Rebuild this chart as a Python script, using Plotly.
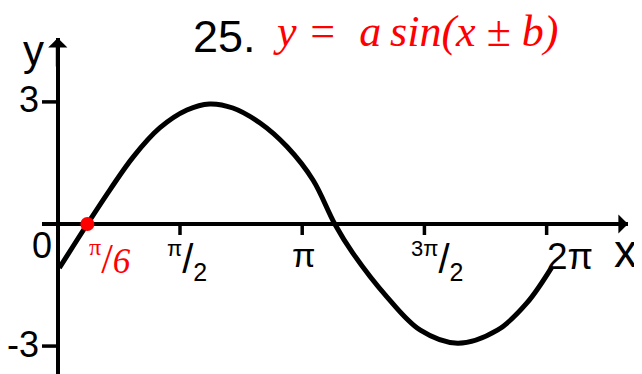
import math
import plotly.graph_objects as go

# --- Data (x in radians, y in units) ---

curve_x = [0.02, 0.38, 0.67, 0.97, 1.31, 1.66, 1.95, 2.25, 2.60, 2.95,
           3.28, 3.56, 3.79, 4.23, 4.66, 5.14, 5.65, 6.03, 6.35]
curve_y = [-1.08, 0.0, 0.84, 1.65, 2.36, 2.80, 2.95, 2.85, 2.48, 1.89,
           1.08, 0.0, -0.71, -1.79, -2.61, -2.93, -2.61, -1.94, -1.06]

point_x = [0.38]  # red dot marking the phase shift
point_y = [0.0]
point_label = ("<sup><span style='font-size:24px'>π</span></sup>/"
               "<span style='font-size:35px'><i>6</i></span>")

x_tick_vals = [math.pi / 2, math.pi, 3 * math.pi / 2, 2 * math.pi]
x_tick_text = [
    "<sup><span style='font-size:22px'>π</span></sup>/<sub><span style='font-size:25px'>2</span></sub>",
    "<span style='font-size:34px'>π</span>",
    "<sup><span style='font-size:22px'>3π</span></sup>/<sub><span style='font-size:25px'>2</span></sub>",
    "<span style='font-size:37px'>2π</span>",
]
x_tick_shift = [7, 1, 13, 23]  # label offset to the right of its tick (px)

y_tick_vals = [3, -3]
y_tick_text = ["3", "-3"]

SANS = "Liberation Sans"
SERIF = "Liberation Serif"

# the page body keeps its default 8px margin, so the figure is laid out
# 8px smaller and its margins pulled in by the same amount
PAD = 8

fig = go.Figure()

fig.add_trace(  # the sine curve
    go.Scatter(
        x=curve_x,
        y=curve_y,
        mode="lines",
        line=dict(color="black", width=5, shape="spline", smoothing=1.0),
        hoverinfo="skip",
    )
)

fig.add_trace(  # red point on the x axis
    go.Scatter(
        x=point_x,
        y=point_y,
        mode="markers",
        marker=dict(color="#ff0000", size=14),
        hoverinfo="skip",
    )
)

# --- Ticks on the axes ---

for v in x_tick_vals:
    fig.add_shape(
        type="line", xref="x", yref="y", x0=v, x1=v,
        ysizemode="pixel", yanchor=0, y0=0, y1=-11,
        line=dict(color="black", width=3.5),
    )
for v in y_tick_vals:
    fig.add_shape(
        type="line", xref="x", yref="y", y0=v, y1=v,
        xsizemode="pixel", xanchor=0, x0=-16, x1=0,
        line=dict(color="black", width=3.5),
    )

# --- Tick labels ---

for v, t, s in zip(x_tick_vals, x_tick_text, x_tick_shift):
    fig.add_annotation(
        x=v, y=0, xref="x", yref="y", text=t, showarrow=False,
        xanchor="center", yanchor="top", xshift=s, yshift=-10,
        font=dict(family=SANS, size=40, color="black"),
    )
for v, t in zip(y_tick_vals, y_tick_text):
    fig.add_annotation(
        x=0, y=v, xref="x", yref="y", text=t, showarrow=False,
        xanchor="right", yanchor="middle", xshift=-17, yshift=2,
        font=dict(family=SANS, size=36, color="black"),
    )
fig.add_annotation(  # origin label
    x=0, y=0, xref="x", yref="y", text="0", showarrow=False,
    xanchor="center", yanchor="middle", xshift=-16, yshift=-22,
    font=dict(family=SANS, size=36, color="black"),
)
fig.add_annotation(  # label for the red point
    x=point_x[0], y=0, xref="x", yref="y", text=point_label, showarrow=False,
    xanchor="center", yanchor="top", xshift=23, yshift=-8,
    font=dict(family=SERIF, size=42, color="#ff0000"),
)

# --- Axis arrows and axis names ---

fig.add_annotation(
    x=1, y=0, xref="paper", yref="y", ax=-30, ay=0, text="",
    showarrow=True, arrowhead=1, arrowsize=0.8, arrowwidth=4, arrowcolor="black",
)
fig.add_annotation(
    x=0, y=1, xref="x", yref="paper", ax=0, ay=30, text="",
    showarrow=True, arrowhead=1, arrowsize=0.8, arrowwidth=4, arrowcolor="black",
)
fig.add_annotation(
    x=1, y=0, xref="paper", yref="y", text="x", showarrow=False,
    xanchor="center", yanchor="middle", xshift=-3, yshift=-27,
    font=dict(family=SANS, size=46, color="black"),
)
fig.add_annotation(
    x=0, y=1, xref="x", yref="paper", text="y", showarrow=False,
    xanchor="center", yanchor="middle", xshift=-24, yshift=-12,
    font=dict(family=SANS, size=42, color="black"),
)

# --- Title: problem number and formula ---

fig.add_annotation(
    x=0.311, y=1.0, xref="paper", yref="paper", text="25.", showarrow=False,
    xanchor="center", yanchor="middle", yshift=2,
    font=dict(family=SANS, size=45, color="black"),
)
fig.add_annotation(
    x=0.638, y=1.0, xref="paper", yref="paper",
    text="<i>y\u00a0=\u00a0\u00a0a\u2009sin(x\u00a0±\u00a0b)</i>",
    showarrow=False,
    xanchor="center", yanchor="middle", yshift=7,
    font=dict(family=SERIF, size=44, color="#ff0000"),
)

fig.update_layout(
    width=642 - PAD,
    height=374 - PAD,
    margin=dict(l=42 - PAD, r=14, t=38 - PAD, b=0),
    paper_bgcolor="white",
    plot_bgcolor="white",
    showlegend=False,
    xaxis=dict(
        range=[-0.203, 7.329],
        showgrid=False, showticklabels=False, ticks="",
        zeroline=True, zerolinecolor="black", zerolinewidth=4,
    ),
    yaxis=dict(
        range=[-3.686, 4.570],
        showgrid=False, showticklabels=False, ticks="",
        zeroline=True, zerolinecolor="black", zerolinewidth=4,
    ),
)

fig.write_html("out.html")
